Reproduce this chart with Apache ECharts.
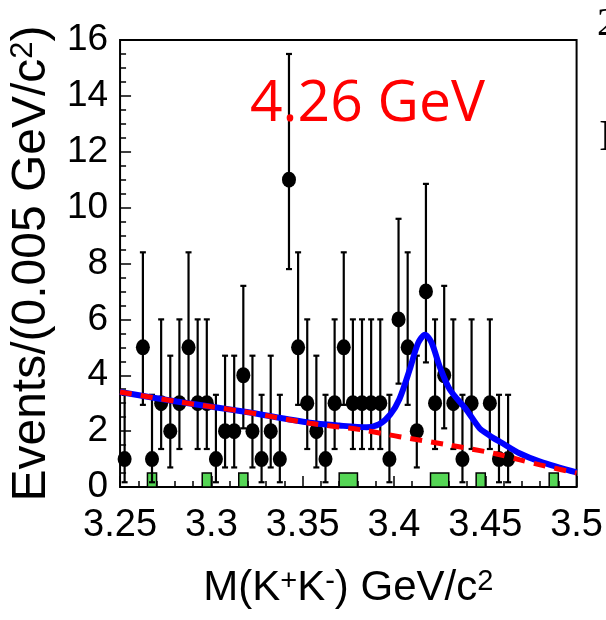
<!DOCTYPE html>
<html>
<head>
<meta charset="utf-8">
<script src="https://cdn.jsdelivr.net/npm/echarts@6/dist/echarts.min.js"></script>
<style>
html, body { margin: 0; padding: 0; background: #fff; }
#chart { width: 606px; height: 620px; }
</style>
</head>
<body>
<div id="chart"></div>
<script>
// data points: bin centre (GeV/c2) and events per 0.005 bin
const binCenters = [3.2525, 3.2625, 3.2675, 3.2725, 3.2775, 3.2825, 3.2875, 3.2925, 3.2975,
  3.3025, 3.3075, 3.3125, 3.3175, 3.3225, 3.3275, 3.3325, 3.3375, 3.3425, 3.3475, 3.3525,
  3.3575, 3.3625, 3.3675, 3.3725, 3.3775, 3.3825, 3.3875, 3.3925, 3.3975, 3.4025, 3.4075,
  3.4125, 3.4175, 3.4225, 3.4275, 3.4325, 3.4375, 3.4425, 3.4525, 3.4575, 3.4625];
const counts = [1, 5, 1, 3, 2, 3, 5, 3, 3,
  1, 2, 2, 4, 2, 1, 2, 1, 11, 5, 3,
  2, 1, 3, 5, 3, 3, 3, 3, 1, 6, 5,
  2, 7, 3, 4, 3, 1, 3, 3, 1, 1];

// error bar ends, read per event count
const errN = [1, 2, 3, 4, 5, 6, 7, 11];
const errLow = [0.17, 0.7, 1.36, 2.1, 2.94, 3.7, 4.46, 7.8];
const errHigh = [3.3, 4.7, 6.0, 7.2, 8.4, 9.6, 10.85, 15.5];

// green histogram at the bottom
const greenLow = [3.265, 3.295, 3.315, 3.37, 3.42, 3.445, 3.485];
const greenHigh = [3.27, 3.30, 3.32, 3.38, 3.43, 3.45, 3.49];
const greenVal = [0.5, 0.5, 0.5, 0.5, 0.5, 0.5, 0.5];

// background (red dashed)
const bkgX = [3.25, 3.281, 3.3175, 3.354, 3.383, 3.403, 3.4305, 3.455, 3.469, 3.48, 3.5];
const bkgY = [3.40, 3.06, 2.70, 2.28, 2.04, 1.80, 1.50, 1.20, 0.97, 0.79, 0.50];

// total fit (blue)
const fitX = [3.25, 3.281, 3.3175, 3.354, 3.370, 3.385, 3.392, 3.398, 3.403, 3.4086, 3.4132,
  3.4170, 3.4205, 3.4251, 3.4305, 3.4397, 3.4469, 3.451, 3.4545, 3.458, 3.469, 3.48, 3.5];
const fitY = [3.40, 3.06, 2.70, 2.30, 2.20, 2.14, 2.25, 2.60, 3.15, 4.20, 5.15,
  5.45, 5.18, 4.30, 3.50, 2.76, 2.10, 1.90, 1.75, 1.62, 1.20, 0.91, 0.52];

const xTicks = [3.25, 3.3, 3.35, 3.4, 3.45, 3.5];
const yTicks = [0, 2, 4, 6, 8, 10, 12, 14, 16];

const points = binCenters.map((x, i) => {
  const k = errN.indexOf(counts[i]);
  return [x, counts[i], errLow[k], errHigh[k]];
});
const green = greenLow.map((x, i) => [x, greenHigh[i], greenVal[i]]);

let myChart = echarts.init(document.getElementById("chart"));
const font = "Liberation Sans";
myChart.setOption({
  animation: false,
  backgroundColor: "#fff",
  grid: {
    left: 120, top: 40, width: 457, height: 447,
    show: true, borderColor: "#000", borderWidth: 2, backgroundColor: "#fff"
  },
  xAxis: {
    type: "value",
    min: xTicks[0], max: xTicks[xTicks.length - 1], interval: 0.05,
    axisLine: { show: false },
    axisTick: { inside: true, length: 11, lineStyle: { color: "#000", width: 1.5 } },
    minorTick: { show: true, splitNumber: 5, length: 6, lineStyle: { color: "#000", width: 1.5 } },
    splitLine: { show: false },
    axisLabel: { margin: 20, color: "#000", fontFamily: font, fontSize: 38 },
    name: "M(K{sup|+}K{sup|-}) GeV/c{sup|2}",
    nameLocation: "middle",
    nameGap: 80,
    nameTextStyle: {
      color: "#000", fontFamily: font, fontSize: 42,
      rich: { sup: { fontFamily: font, fontSize: 29, verticalAlign: "top", color: "#000" } }
    }
  },
  yAxis: {
    type: "value",
    min: yTicks[0], max: yTicks[yTicks.length - 1], interval: 2,
    axisLine: { show: false },
    axisTick: { inside: true, length: 11, lineStyle: { color: "#000", width: 1.5 } },
    minorTick: { show: true, splitNumber: 4, length: 6, lineStyle: { color: "#000", width: 1.5 } },
    splitLine: { show: false },
    axisLabel: { margin: 12, color: "#000", fontFamily: font, fontSize: 37 },
    name: "Events/(0.005 GeV/c{sup|2})",
    nameLocation: "middle",
    nameGap: 59,
    nameTextStyle: {
      color: "#000", fontFamily: font, fontSize: 48,
      rich: { sup: { fontFamily: font, fontSize: 31, verticalAlign: "top", color: "#000" } }
    }
  },
  series: [
    {
      type: "custom",
      data: green,
      z: 2,
      renderItem: function (params, api) {
        const a = api.coord([api.value(0), api.value(2)]);
        const b = api.coord([api.value(1), 0]);
        return {
          type: "rect",
          shape: { x: a[0], y: a[1], width: b[0] - a[0], height: b[1] - a[1] },
          style: { fill: "#55d655", stroke: "#000", lineWidth: 1.5 }
        };
      }
    },
    {
      type: "custom",
      data: points,
      z: 3,
      renderItem: function (params, api) {
        const lo = api.coord([api.value(0), api.value(2)]);
        const hi = api.coord([api.value(0), api.value(3)]);
        const st = { stroke: "#000", lineWidth: 2.2 };
        return {
          type: "group",
          children: [
            { type: "line", shape: { x1: lo[0], y1: lo[1], x2: hi[0], y2: hi[1] }, style: st },
            { type: "line", shape: { x1: lo[0] - 3, y1: lo[1], x2: lo[0] + 3, y2: lo[1] }, style: st },
            { type: "line", shape: { x1: hi[0] - 3, y1: hi[1], x2: hi[0] + 3, y2: hi[1] }, style: st }
          ]
        };
      }
    },
    {
      type: "scatter",
      data: points.map(p => [p[0], p[1]]),
      symbol: "circle",
      symbolSize: [14, 16],
      itemStyle: { color: "#000", opacity: 1 },
      z: 4
    },
    {
      type: "line",
      data: fitX.map((x, i) => [x, fitY[i]]),
      showSymbol: false,
      smooth: 0.3,
      lineStyle: { color: "#0000ff", width: 6 },
      z: 5
    },
    {
      type: "line",
      data: bkgX.map((x, i) => [x, bkgY[i]]),
      showSymbol: false,
      smooth: 0.3,
      lineStyle: { color: "#ff0000", width: 5, type: [12, 9] },
      z: 6
    }
  ],
  graphic: [
    {
      type: "text", left: 250, top: 76, z: 10,
      style: { text: "4.26 GeV", fill: "#ff0000", fontFamily: "Open Sans", fontSize: 57 }
    },
    {
      type: "text", left: 597, top: 4, z: 10,
      style: { text: "2", fill: "#000", fontFamily: "Liberation Serif", fontSize: 40 }
    },
    {
      type: "text", left: 599, top: 116, z: 10,
      style: { text: "I", fill: "#000", fontFamily: "Liberation Serif", fontSize: 44 }
    }
  ]
});
</script>
</body>
</html>
